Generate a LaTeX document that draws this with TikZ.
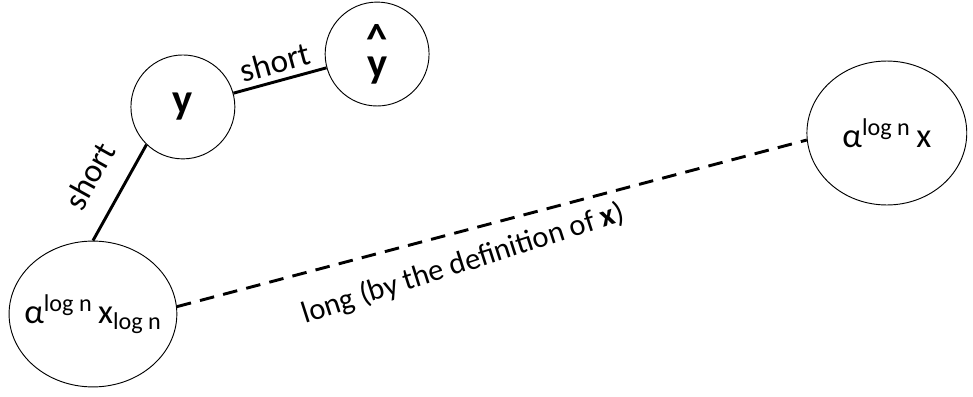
\documentclass[tikz,border=0pt]{standalone}
\usepackage{fontspec}
\setmainfont{Carlito}
\usetikzlibrary{shapes.geometric, positioning}
\tikzset{
  roundnode/.style={circle, draw=black, fill=white, line width=0.7pt,
    minimum size=2.75cm, inner sep=0pt, font=\fontsize{32}{34}\selectfont},
  ovalnode/.style={ellipse, draw=black, fill=white, line width=0.7pt,
    inner xsep=-20pt, inner ysep=0pt, font=\fontsize{26}{30}\selectfont},
  link/.style={line width=2.2pt},
  dashlink/.style={line width=2.2pt, dash pattern=on 11pt off 7pt},
  lbl/.style={font=\fontsize{25}{27}\selectfont, sloped}
}
\begin{document}
\begin{tikzpicture}
  \useasboundingbox (0,0) rectangle (25.75,10.48);
  % nodes
  \node[ovalnode, minimum width=4.44cm, minimum height=3.86cm] (lx) at (2.46,2.17)
    {α\textsuperscript{log n}\,x\textsubscript{log n}};
  \node[roundnode] (yy) at (4.84,7.65) {\textbf{y}};
  \node[roundnode, align=center] (yh) at (9.98,9.05)
    {\textbf{\textasciicircum}\\[-16pt]\textbf{y}};
  \node[ovalnode, minimum width=4.23cm, minimum height=3.81cm] (rx) at (23.47,6.96)
    {α\textsuperscript{log n}\,x};

  % connectors
  \draw[link] (lx.90) -- node[lbl, above=13pt] {short} (yy.226);
  \draw[link] (yy) -- node[lbl, above=1pt] {short} (yh);
  \draw[dashlink] (lx.5) -- node[lbl, pos=0.44, below=9pt, rotate=3,
    font=\fontsize{23}{25}\selectfont]
    {long (by the definition of \textbf{x})} (rx.185);
\end{tikzpicture}
\end{document}
